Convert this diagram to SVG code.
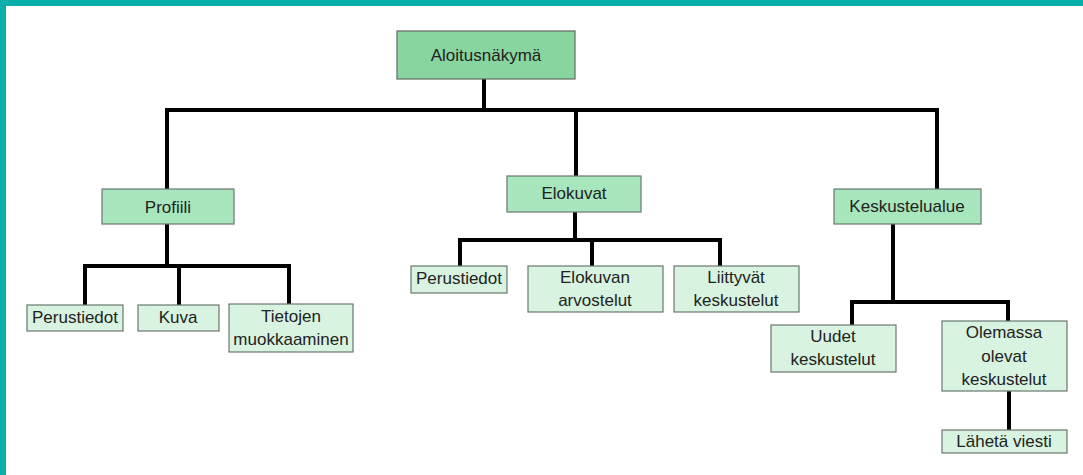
<svg xmlns="http://www.w3.org/2000/svg" width="1083" height="475" viewBox="0 0 1083 475">
<style>
.root{fill:#88d5a0;stroke:#5f6b63;stroke-width:1.2}
.mid{fill:#a8e6bd;stroke:#6b776f;stroke-width:1.2}
.leaf{fill:#d8f3df;stroke:#6b776f;stroke-width:1.2}
text{font-family:"Liberation Sans",Arial,sans-serif;font-size:17px;fill:#222;text-anchor:middle;dominant-baseline:central}
.conn{fill:none;stroke:#000;stroke-width:4;stroke-linecap:square;stroke-linejoin:miter}
</style>
<rect x="0" y="0" width="1083" height="475" fill="#fff"/>
<rect x="0" y="0" width="1083" height="6" fill="#0aafac"/>
<rect x="0" y="0" width="6" height="475" fill="#0aafac"/>
<g id="connectors">
<path class="conn" d="M484 80V110M167 189V110H937V189M576 110V176"/>
<path class="conn" d="M167 225V266M85 305V266H289V304M179 266V305"/>
<path class="conn" d="M575 212V240M460 266V240H720V266M592 240V266"/>
<path class="conn" d="M893 224V302M852 325V302H1008V321"/>
<path class="conn" d="M1009 391V430"/>
</g>
<g id="n-aloitus"><rect class="root" x="397" y="31" width="178" height="48"/><text x="486" y="55">Aloitusnäkymä</text></g>
<g id="n-profiili"><rect class="mid" x="102" y="189" width="132" height="35"/><text x="168" y="207">Profiili</text></g>
<g id="n-elokuvat"><rect class="mid" x="507" y="176" width="134" height="36"/><text x="574" y="193">Elokuvat</text></g>
<g id="n-keskustelualue"><rect class="mid" x="834" y="189" width="147" height="35"/><text x="907" y="206">Keskustelualue</text></g>
<g id="n-p-perustiedot"><rect class="leaf" x="27" y="305" width="96" height="26"/><text x="75" y="317">Perustiedot</text></g>
<g id="n-kuva"><rect class="leaf" x="138" y="305" width="81" height="26"/><text x="178" y="317">Kuva</text></g>
<g id="n-tietojen"><rect class="leaf" x="229" y="304" width="124" height="48"/><text x="291" y="316">Tietojen</text><text x="291" y="339">muokkaaminen</text></g>
<g id="n-e-perustiedot"><rect class="leaf" x="411" y="266" width="96" height="27"/><text x="459" y="278">Perustiedot</text></g>
<g id="n-arvostelut"><rect class="leaf" x="528" y="266" width="135" height="46"/><text x="595" y="277">Elokuvan</text><text x="595" y="300">arvostelut</text></g>
<g id="n-liittyvat"><rect class="leaf" x="674" y="266" width="125" height="46"/><text x="736" y="277">Liittyvät</text><text x="736" y="300">keskustelut</text></g>
<g id="n-uudet"><rect class="leaf" x="771" y="325" width="125" height="47"/><text x="833" y="336">Uudet</text><text x="833" y="359">keskustelut</text></g>
<g id="n-olemassa"><rect class="leaf" x="942" y="321" width="125" height="70"/><text x="1004" y="332">Olemassa</text><text x="1004" y="356">olevat</text><text x="1004" y="379">keskustelut</text></g>
<g id="n-laheta"><rect class="leaf" x="942" y="430" width="125" height="23"/><text x="1004" y="441">Lähetä viesti</text></g>
</svg>
